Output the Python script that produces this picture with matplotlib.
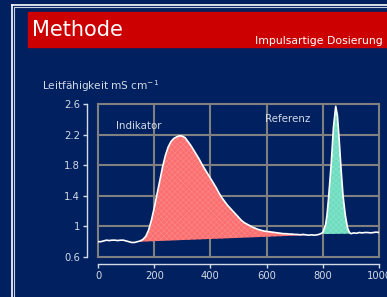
import numpy as np
import matplotlib.pyplot as plt
from matplotlib.lines import Line2D

#===========================================
# data
t = [0, 10, 20, 30, 40, 50, 60, 70, 80, 90, 100, 110, 120, 130, 140, 150,
     160, 170, 180, 190, 200, 210, 220, 230, 240, 250, 260, 270, 280, 290,
     300, 310, 320, 330, 340, 350, 360, 370, 380, 390, 400, 410, 420, 430,
     440, 450, 460, 470, 480, 490, 500, 510, 520, 530, 540, 550, 560, 570,
     580, 590, 600, 610, 620, 630, 640, 650, 660, 670, 680, 690, 700, 710,
     720, 730, 740, 750, 760, 770, 780, 790, 800, 810, 815, 820, 830, 838,
     846, 852, 858, 865, 872, 880, 888, 895, 900, 910, 920, 930, 940, 950,
     960, 970, 980, 990, 1000]
cond = [0.80, 0.80, 0.81, 0.82, 0.815, 0.82, 0.82, 0.815, 0.82, 0.82, 0.81,
        0.80, 0.79, 0.79, 0.80, 0.81, 0.83, 0.87, 0.95, 1.08, 1.24, 1.42,
        1.60, 1.78, 1.93, 2.04, 2.11, 2.15, 2.17, 2.185, 2.18, 2.16, 2.11,
        2.06, 2.00, 1.94, 1.88, 1.81, 1.75, 1.69, 1.63, 1.57, 1.51, 1.44,
        1.38, 1.33, 1.28, 1.24, 1.20, 1.16, 1.12, 1.08, 1.05, 1.03, 1.01,
        0.99, 0.975, 0.96, 0.95, 0.94, 0.935, 0.93, 0.925, 0.92, 0.915, 0.91,
        0.905, 0.905, 0.90, 0.90, 0.895, 0.895, 0.89, 0.895, 0.89, 0.885,
        0.89, 0.885, 0.89, 0.90, 0.92, 1.02, 1.15, 1.35, 1.82, 2.30, 2.57,
        2.45, 2.15, 1.75, 1.40, 1.15, 0.98, 0.92, 0.905, 0.915, 0.91, 0.92,
        0.915, 0.92, 0.92, 0.915, 0.92, 0.925, 0.92]

# straight baselines under the two peaks (start, end)
ind_base_t = [150, 740]
ind_base_c = [0.80, 0.885]
ref_base_t = [795, 900]
ref_base_c = [0.90, 0.905]

xticks = [0, 200, 400, 600, 800, 1000]
yticks = [0.6, 1.0, 1.4, 1.8, 2.2, 2.6]
ytick_labels = ['0.6', '1', '1.4', '1.8', '2.2', '2.6']

#===========================================
bg = '#00205f'
txt = '#d4dae6'

plt.rcParams['hatch.linewidth'] = 0.3
fig = plt.figure(figsize=(3.87, 2.97), dpi=100, facecolor=bg)

# frame lines and title banner
fig.add_artist(Line2D([11.5/387, 11.5/387], [0, 1 - 5/297], color='white', lw=1.2))
fig.add_artist(Line2D([11.5/387, 1], [1 - 5/297, 1 - 5/297], color='white', lw=1.2))
fig.add_artist(Line2D([13.8/387, 13.8/387], [0, 1 - 7/297], color='#c8d0e0', lw=0.8))
fig.add_artist(Line2D([13.8/387, 1], [1 - 7/297, 1 - 7/297], color='#c8d0e0', lw=0.8))
fig.patches.append(plt.Rectangle((28/387, 1 - 47/297), 1, 35/297, color='#cc0000',
                                 transform=fig.transFigure, figure=fig))
fig.text(32/387, 1 - 30/297, 'Methode', color='white', fontsize=15, va='center')
fig.text(255/387, 1 - 41/297, 'Impulsartige Dosierung', color='white', fontsize=7.8, va='center')
fig.text(42/387, 1 - 86/297, 'Leitfähigkeit mS cm$^{-1}$', color=txt, fontsize=7.6, va='center')

ax = fig.add_axes([98/387, 1 - 257/297, 281/387, 153/297])
ax.set_facecolor(bg)
ax.set_xlim(0, 1000)
ax.set_ylim(0.6, 2.6)

for xv in xticks:
    ax.axvline(xv, color='#808080', lw=1.5, clip_on=False, zorder=1)
for yv in yticks:
    ax.axhline(yv, color='#808080', lw=1.5, clip_on=False, zorder=1)

t_arr = np.array(t)
c_arr = np.array(cond)

m = (t_arr >= ind_base_t[0]) & (t_arr <= ind_base_t[1])
base = np.interp(t_arr[m], ind_base_t, ind_base_c)
ax.fill_between(t_arr[m], base, np.maximum(c_arr[m], base), facecolor='#fa7070',
                edgecolor='#ff9090', hatch='xxxxxx', lw=0, zorder=2)

m = (t_arr >= ref_base_t[0]) & (t_arr <= ref_base_t[1])
base = np.interp(t_arr[m], ref_base_t, ref_base_c)
ax.fill_between(t_arr[m], base, np.maximum(c_arr[m], base), facecolor='#6fdcc0',
                edgecolor='#90ead2', hatch='xxxxxx', lw=0, zorder=2)

ax.plot(t, cond, color='white', lw=1.2, zorder=3)

ax.text(64, 2.31, 'Indikator', color=txt, fontsize=7.4, va='center')
ax.text(594, 2.40, 'Referenz', color=txt, fontsize=7.4, va='center')

# detached axis spines
for s in ['top', 'right']:
    ax.spines[s].set_visible(False)
ax.spines['left'].set_position(('outward', 8))
ax.spines['bottom'].set_position(('outward', 5))
for s in ['left', 'bottom']:
    ax.spines[s].set_color(txt)
    ax.spines[s].set_linewidth(1)
ax.set_xticks(xticks)
ax.set_yticks(yticks)
ax.set_yticklabels(ytick_labels)
ax.tick_params(colors=txt, labelsize=7.2, length=3, width=1, pad=2)

fig.savefig('out.png', dpi=100, facecolor=bg)
